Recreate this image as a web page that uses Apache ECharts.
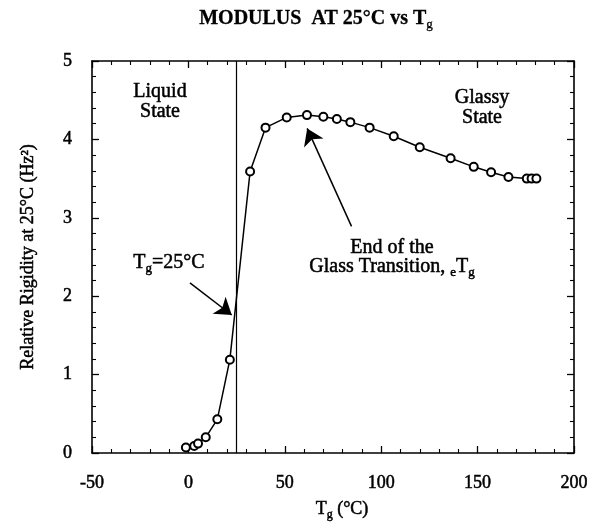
<!DOCTYPE html>
<html>
<head>
<meta charset="utf-8">
<script src="https://cdn.jsdelivr.net/npm/echarts@6/dist/echarts.min.js"></script>
<style>
html,body{margin:0;padding:0;background:#fff;}
#chart{width:594px;height:525px;}
</style>
</head>
<body>
<div id="chart"></div>
<script>
// Data
var tgValues = [-1.3, 3, 5, 9, 15, 21.5, 32, 40, 51, 61.5, 70, 77, 84, 94, 106.5, 120, 136, 148, 157, 166, 175.5, 178, 180.5];
var rigidityValues = [0.07, 0.09, 0.12, 0.2, 0.43, 1.19, 3.59, 4.15, 4.28, 4.31, 4.29, 4.26, 4.22, 4.15, 4.04, 3.9, 3.76, 3.65, 3.58, 3.52, 3.5, 3.5, 3.5];
var cureTemp = 25;
var xRange = [-50, 200];
var yRange = [0, 5];

var points = tgValues.map(function (t, i) { return [t, rigidityValues[i]]; });

var FONT = '"Liberation Serif", "Times New Roman", serif';
var chart = echarts.init(document.getElementById('chart'), null, {renderer: 'canvas'});

function axisBase(show) {
  return {
    type: 'value',
    axisLine: {show: true, onZero: false, lineStyle: {color: '#000', width: 1.6}},
    axisTick: {show: true, inside: true, length: 7, lineStyle: {color: '#000', width: 1.3}},
    minorTick: {show: true, splitNumber: 5, length: 4, lineStyle: {color: '#000', width: 1.1}},
    splitLine: {show: false},
    minorSplitLine: {show: false},
    axisLabel: {show: show, color: '#000', fontFamily: FONT, fontSize: 18, textBorderColor: '#000', textBorderWidth: 0.5}
  };
}

var xb = axisBase(true);
xb.min = xRange[0]; xb.max = xRange[1]; xb.interval = 50; xb.position = 'bottom';
xb.axisLabel.margin = 21;
var xt = axisBase(false);
xt.min = xRange[0]; xt.max = xRange[1]; xt.interval = 50; xt.position = 'top';

var yl = axisBase(true);
yl.min = yRange[0]; yl.max = yRange[1]; yl.interval = 1; yl.position = 'left';
yl.axisLabel.margin = 20;
var yr = axisBase(false);
yr.min = yRange[0]; yr.max = yRange[1]; yr.interval = 1; yr.position = 'right';

function txt(x, y, text, size, extra) {
  var style = {
    text: text, fontFamily: FONT, fontSize: size, fill: '#000', textAlign: 'center',
    stroke: '#000', lineWidth: 0.5,
    rich: {s: {fontSize: Math.round(size * 0.65), fontFamily: FONT, padding: [Math.round(size * 0.6), 0, 0, 0]}}
  };
  for (var k in (extra || {})) style[k] = extra[k];
  return {type: 'text', x: x, y: y, style: style};
}

var option = {
  backgroundColor: '#fff',
  animation: false,
  grid: {left: 92, right: 20, top: 61, bottom: 72, containLabel: false},
  xAxis: [xb, xt],
  yAxis: [yl, yr],
  series: [{
    type: 'line',
    data: points,
    xAxisIndex: 0, yAxisIndex: 0,
    symbol: 'emptyCircle',
    symbolSize: 8,
    lineStyle: {color: '#000', width: 1.5},
    itemStyle: {color: '#000', borderWidth: 1.3},
    silent: true,
    markLine: {
      silent: true,
      symbol: ['none', 'arrow'],
      symbolSize: 16,
      label: {show: false},
      lineStyle: {color: '#000', width: 1.5, type: 'solid'},
      data: [
        [{coord: [cureTemp, yRange[0]], symbol: 'none'}, {coord: [cureTemp, yRange[1]], symbol: 'none', lineStyle: {width: 1.2}}],
        [{coord: [0.8, 2.17]}, {coord: [22.5, 1.76]}],
        [{coord: [84.6, 2.89]}, {coord: [61.6, 4.14]}]
      ]
    }
  }],
  graphic: [
    txt(316, 6, 'MODULUS  AT 25°C vs T{s|g}', 20, {fontWeight: 'bold', lineWidth: 0.3}),
    {type: 'text', x: 28, y: 257, rotation: Math.PI / 2, style: {text: 'Relative Rigidity at 25°C (Hz²)', fontFamily: FONT, fontSize: 18, fill: '#000', stroke: '#000', lineWidth: 0.5, textAlign: 'center', textVerticalAlign: 'middle'}},
    txt(342, 498, 'T{s|g} (°C)', 18),
    txt(160, 82, 'Liquid\nState', 20, {lineHeight: 20}),
    txt(482, 88, 'Glassy\nState', 20, {lineHeight: 20}),
    txt(169, 250, 'T{s|g}=25°C', 20),
    txt(392, 238, 'End of the\nGlass Transition, {s|e}T{s|g}', 20, {lineHeight: 19})
  ]
};
chart.setOption(option);
</script>
</body>
</html>
